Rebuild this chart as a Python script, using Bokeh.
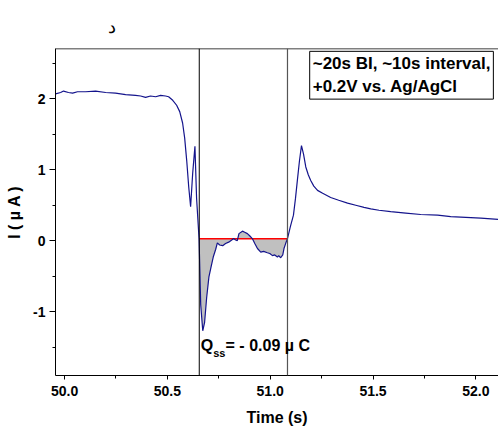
from bokeh.plotting import figure
from bokeh.models import Span, Label, FixedTicker, Range1d
from bokeh.embed import file_html
from bokeh.resources import INLINE

# ---- data ----
time_s = [49.956, 49.981, 49.995, 50.019, 50.039, 50.063, 50.102, 50.151, 50.200, 50.248,
          50.297, 50.345, 50.370, 50.394, 50.418, 50.443, 50.467, 50.491, 50.506, 50.526,
          50.545, 50.560, 50.574, 50.584, 50.594, 50.604, 50.613, 50.623, 50.634, 50.642,
          50.654, 50.662, 50.672, 50.681, 50.691, 50.702, 50.713, 50.723, 50.735, 50.743,
          50.754, 50.769, 50.783, 50.798, 50.813, 50.822, 50.832, 50.840, 50.848, 50.865,
          50.876, 50.889, 50.900, 50.913, 50.925, 50.938, 50.954, 50.968, 50.986, 50.998,
          51.011, 51.022, 51.035, 51.041, 51.051, 51.061, 51.067, 51.075, 51.084, 51.098,
          51.113, 51.123, 51.132, 51.142, 51.152, 51.162, 51.173, 51.185, 51.197, 51.212,
          51.230, 51.255, 51.294, 51.333, 51.376, 51.416, 51.456, 51.489, 51.529, 51.586,
          51.659, 51.732, 51.814, 51.878, 51.951, 52.024, 52.110]
current_uA = [2.07, 2.09, 2.11, 2.09, 2.08, 2.10, 2.10, 2.11, 2.09, 2.08,
              2.06, 2.05, 2.04, 2.02, 2.04, 2.03, 2.05, 2.04, 2.03, 1.98,
              1.91, 1.82, 1.66, 1.45, 1.13, 0.75, 0.48, 0.95, 1.33, 0.60,
              0.03, -0.90, -1.27, -1.15, -0.80, -0.51, -0.36, -0.23, -0.12, -0.03,
              -0.06, -0.07, -0.04, -0.02, 0.01, 0.03, 0.01, 0.00, 0.10, 0.135,
              0.12, 0.10, 0.07, 0.03, -0.04, -0.11, -0.16, -0.15, -0.17, -0.18,
              -0.21, -0.20, -0.23, -0.21, -0.24, -0.20, -0.11, -0.04, 0.03, 0.20,
              0.36, 0.60, 0.85, 1.12, 1.34, 1.22, 1.04, 0.93, 0.85, 0.77,
              0.71, 0.67, 0.61, 0.57, 0.53, 0.50, 0.47, 0.45, 0.43, 0.41,
              0.39, 0.37, 0.36, 0.34, 0.33, 0.32, 0.30]

t_start = 50.655      # left marker line
t_end = 51.084        # right marker line
baseline_uA = 0.028   # red baseline level

x_ticks = [50.0, 50.5, 51.0, 51.5, 52.0]
y_ticks = [-1, 0, 1, 2]
y_tick_labels = ["-1", "0", "1", "2"]

title_text = "د"
box_text = "~20s BI, ~10s interval,\n +0.2V vs. Ag/AgCl"
q_text_main = "Q"
q_text_sub = "ss"
q_text_rest = "= - 0.09 µ C"

FONT = "Liberation Sans"

p = figure(width=498, height=431, output_backend="svg", toolbar_location=None,
           x_range=Range1d(49.956, 52.11), y_range=Range1d(-1.90, 2.71),
           min_border_left=55, min_border_right=0, min_border_top=48, min_border_bottom=56)
p.outline_line_color = None
p.grid.visible = False
p.background_fill_color = "white"
p.border_fill_color = "white"

# title
p.title.text = title_text
p.title.text_font = FONT
p.title.text_font_size = "18px"
p.title.text_font_style = "normal"
p.title.text_color = "black"
p.title.align = "left"
p.title.offset = 52
p.title.standoff = 24

# axes
p.xaxis.ticker = FixedTicker(ticks=x_ticks, minor_ticks=[49.75 + 0.25 * i for i in range(11)])
p.yaxis.ticker = FixedTicker(ticks=y_ticks, minor_ticks=[-1.5, -0.5, 0.5, 1.5, 2.5])
p.xaxis.axis_label = "Time (s)"
p.yaxis.axis_label = "I ( µ A )"
for ax in (p.xaxis, p.yaxis):
    ax.axis_line_color = "black"
    ax.axis_line_width = 1
    ax.major_tick_line_color = "black"
    ax.minor_tick_line_color = "black"
    ax.major_tick_in = 0
    ax.minor_tick_in = 0
    ax.minor_tick_out = 3
    ax.major_label_text_font = FONT
    ax.major_label_text_font_style = "bold"
    ax.major_label_text_font_size = "14px"
    ax.major_label_text_color = "black"
    ax.axis_label_text_font = FONT
    ax.axis_label_text_font_style = "bold"
    ax.axis_label_text_font_size = "16px"
    ax.axis_label_text_color = "black"
p.xaxis.major_tick_out = 4
p.yaxis.major_tick_out = 6
p.xaxis.major_label_standoff = 6
p.yaxis.major_label_standoff = 4
p.xaxis.axis_label_standoff = 10
p.yaxis.axis_label_standoff = 7
p.xaxis.major_label_overrides = {v: f"{v:.1f}" for v in x_ticks}
p.yaxis.major_label_overrides = {v: s for v, s in zip(y_ticks, y_tick_labels)}

# top frame line
p.add_layout(Span(location=2.71, dimension="width", line_color="black", line_width=1.5))

# shaded area between curve and baseline
sel = [(t, c) for t, c in zip(time_s, current_uA) if t_start - 0.002 <= t <= t_end + 0.002]
st = [s[0] for s in sel]
sc = [s[1] for s in sel]
p.varea(x=st, y1=sc, y2=[baseline_uA] * len(st), fill_color="#c0c0c0", fill_alpha=1.0)

# marker lines
p.add_layout(Span(location=t_start, dimension="height", line_color="black", line_width=1))
p.add_layout(Span(location=t_end, dimension="height", line_color="#555555", line_width=1.2))

# baseline
p.line(x=[t_start, t_end], y=[baseline_uA, baseline_uA], line_color="red", line_width=1.5)

# current trace
p.line(x=time_s, y=current_uA, line_color="#14148c", line_width=1.2)

# annotation box
p.add_layout(Label(x=51.192, y=2.67, text=box_text, anchor="top_left",
                   text_font=FONT, text_font_style="bold", text_font_size="17px",
                   text_line_height=1.2, text_color="black", padding=3,
                   border_line_color="black", border_line_width=1,
                   background_fill_color="white"))

# Q_ss label
p.add_layout(Label(x=50.662, y=-1.60, text=q_text_main, text_font=FONT, text_font_style="bold",
                   text_font_size="16px", text_color="black"))
p.add_layout(Label(x=50.723, y=-1.665, text=q_text_sub, text_font=FONT, text_font_style="bold",
                   text_font_size="11px", text_color="black"))
p.add_layout(Label(x=50.783, y=-1.60, text=q_text_rest, text_font=FONT, text_font_style="bold",
                   text_font_size="16px", text_color="black"))

open("out.html", "w").write(file_html(p, INLINE))
